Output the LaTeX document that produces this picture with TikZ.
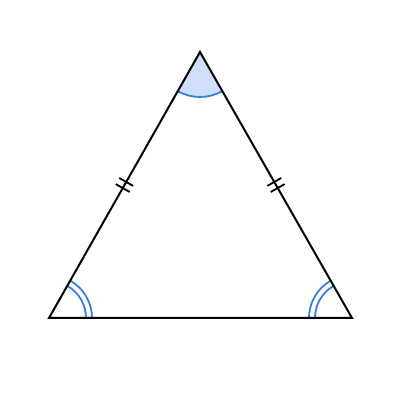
\documentclass[tikz,border=0pt]{standalone}
\usetikzlibrary{calc}
\definecolor{arcblue}{HTML}{3B7DD8}
\definecolor{fillblue}{HTML}{CFDFFA}
\tikzset{
  side/.style={black, line width=2pt, line join=miter},
  anglearc/.style={arcblue, line width=1.8pt},
  tick/.style={black, line width=1.8pt}
}
\begin{document}
\begin{tikzpicture}[x=1pt,y=1pt]
\useasboundingbox (0,0) rectangle (400,400);
\coordinate (A) at (200,348);
\coordinate (B) at (49,82);
\coordinate (C) at (352,82);
% apex angle
\fill[fillblue] (A) -- ++(240.42:45) arc[start angle=240.42, end angle=299.74, radius=45] -- cycle;
\draw[anglearc] (A) ++(240.42:45) arc[start angle=240.42, end angle=299.74, radius=45];
% bottom-left double arc
\draw[anglearc] (B) ++(0:37) arc[start angle=0, end angle=60.42, radius=37];
\draw[anglearc] (B) ++(0:43) arc[start angle=0, end angle=60.42, radius=43];
% bottom-right double arc
\draw[anglearc] (C) ++(119.74:37) arc[start angle=119.74, end angle=180, radius=37];
\draw[anglearc] (C) ++(119.74:43) arc[start angle=119.74, end angle=180, radius=43];
% triangle
\draw[side] (A) -- (B) -- (C) -- cycle;
% ticks left side
\coordinate (M1) at ($(A)!0.5!(B)$);
\draw[tick] (M1) ++(60.42:3.5) ++(150.42:8) -- ++(-29.58:16);
\draw[tick] (M1) ++(60.42:-3.5) ++(150.42:8) -- ++(-29.58:16);
% ticks right side
\coordinate (M2) at ($(A)!0.5!(C)$);
\draw[tick] (M2) ++(119.74:3.5) ++(29.74:8) -- ++(209.74:16);
\draw[tick] (M2) ++(119.74:-3.5) ++(29.74:8) -- ++(209.74:16);
\end{tikzpicture}
\end{document}
